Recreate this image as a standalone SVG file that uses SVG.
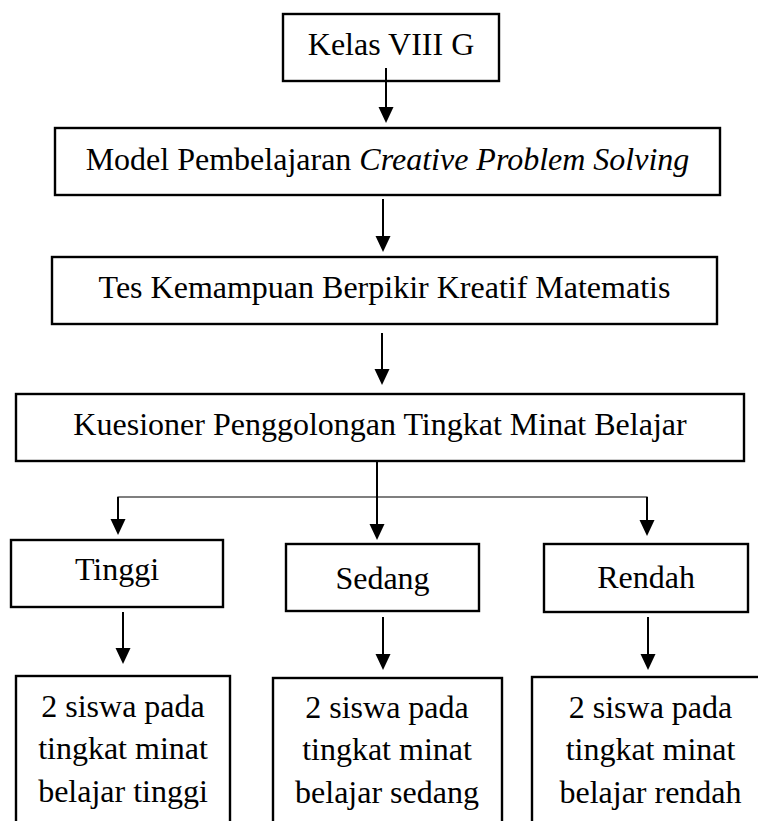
<svg xmlns="http://www.w3.org/2000/svg" width="758" height="821" viewBox="0 0 758 821">
<style>
.box{fill:#fff;stroke:#000;stroke-width:2.4}
.t{font-family:"Liberation Serif","Times New Roman",serif;font-size:32px;fill:#000;text-anchor:middle}
.c{stroke:#000;stroke-width:2;fill:none}
.thin{stroke:#000;stroke-width:1.2;fill:none}
</style>
<defs>
<marker id="ah" markerUnits="userSpaceOnUse" markerWidth="16" markerHeight="16" viewBox="0 0 16 16" refX="8" refY="7.5" orient="auto">
<path d="M0,0 L16,7.5 L0,15 z" fill="#000"/>
</marker>
</defs>
<rect width="758" height="821" fill="#fff"/>
<g id="n-kelas"><rect class="box" x="283" y="14" width="216" height="67"/><text class="t" x="391" y="55">Kelas VIII G</text></g>
<g id="n-model"><rect class="box" x="55" y="128" width="665" height="67"/><text class="t" x="387.5" y="170">Model Pembelajaran <tspan font-style="italic">Creative Problem Solving</tspan></text></g>
<g id="n-tes"><rect class="box" x="52" y="257" width="665" height="67"/><text class="t" x="384.5" y="298">Tes Kemampuan Berpikir Kreatif Matematis</text></g>
<g id="n-kuesioner"><rect class="box" x="16" y="394" width="728" height="67"/><text class="t" x="380" y="435">Kuesioner Penggolongan Tingkat Minat Belajar</text></g>
<g id="n-tinggi"><rect class="box" x="11" y="540" width="212" height="67"/><text class="t" x="117" y="580">Tinggi</text></g>
<g id="n-sedang"><rect class="box" x="286" y="544" width="193" height="67"/><text class="t" x="382.5" y="589">Sedang</text></g>
<g id="n-rendah"><rect class="box" x="544" y="544" width="204" height="68"/><text class="t" x="646" y="588">Rendah</text></g>
<g id="n-hasil-tinggi"><rect class="box" x="16" y="676" width="214" height="160"/><text class="t" x="123" y="717">2 siswa pada</text><text class="t" x="123" y="759">tingkat minat</text><text class="t" x="123" y="802">belajar tinggi</text></g>
<g id="n-hasil-sedang"><rect class="box" x="273" y="678" width="229" height="160"/><text class="t" x="387" y="718">2 siswa pada</text><text class="t" x="387" y="760">tingkat minat</text><text class="t" x="387" y="803">belajar sedang</text></g>
<g id="n-hasil-rendah"><rect class="box" x="532" y="677" width="236" height="160"/><text class="t" x="650.5" y="718">2 siswa pada</text><text class="t" x="650.5" y="760">tingkat minat</text><text class="t" x="650.5" y="803">belajar rendah</text></g>
<g id="connectors">
<line class="c" x1="386" y1="68" x2="386" y2="115" marker-end="url(#ah)"/>
<line class="c" x1="383" y1="199" x2="383" y2="244" marker-end="url(#ah)"/>
<line class="c" x1="382" y1="333" x2="382" y2="377" marker-end="url(#ah)"/>
<line class="c" x1="377" y1="461" x2="377" y2="532" marker-end="url(#ah)"/>
<polyline class="thin" points="118,527 118,497 647,497 647,528"/>
<line class="c" x1="118" y1="497" x2="118" y2="527" marker-end="url(#ah)"/>
<line class="c" x1="647" y1="497" x2="647" y2="528" marker-end="url(#ah)"/>
<line class="c" x1="123" y1="612" x2="123" y2="656" marker-end="url(#ah)"/>
<line class="c" x1="383" y1="617" x2="383" y2="662" marker-end="url(#ah)"/>
<line class="c" x1="648" y1="617" x2="648" y2="662" marker-end="url(#ah)"/>
</g>
</svg>
